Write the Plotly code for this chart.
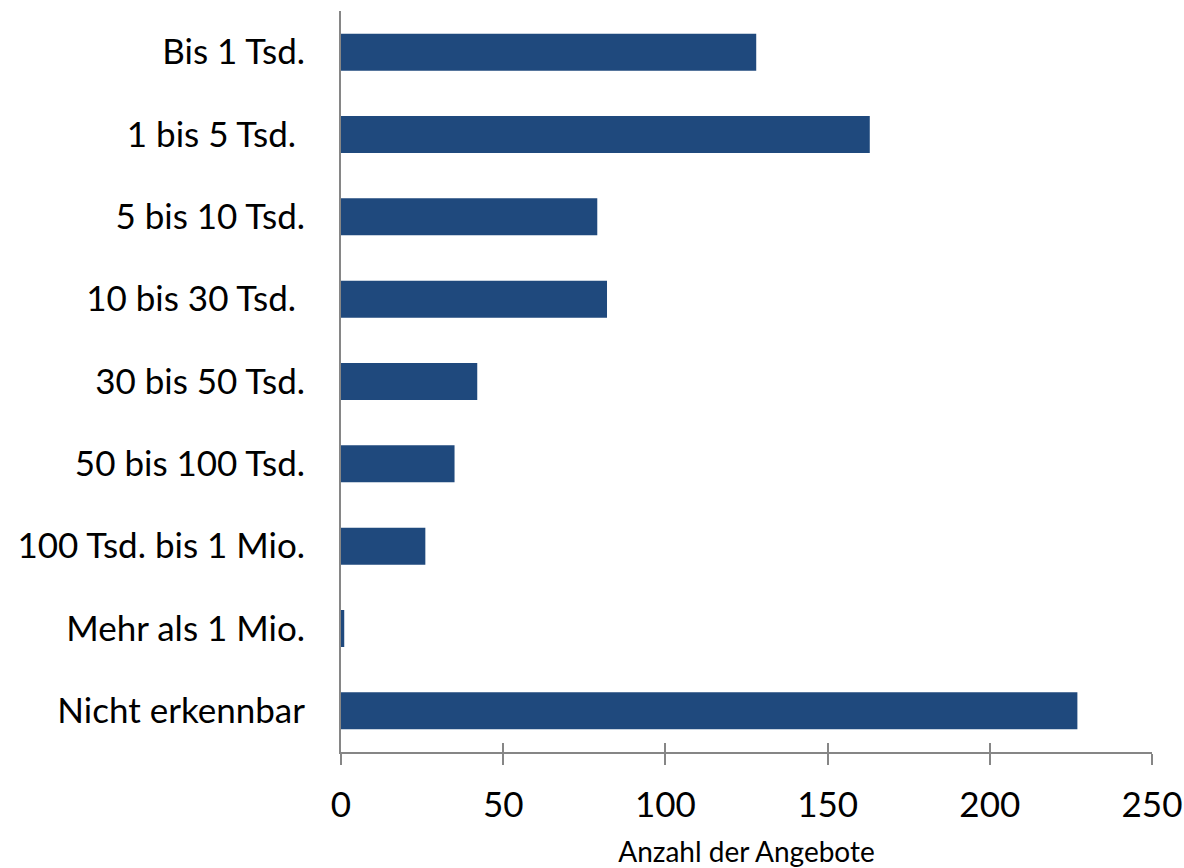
import plotly.graph_objects as go

categories = ["Bis 1 Tsd.", "1 bis 5 Tsd.\u00a0", "5 bis 10 Tsd.", "10 bis 30 Tsd.\u00a0",
              "30 bis 50 Tsd.", "50 bis 100 Tsd.", "100 Tsd. bis 1 Mio.",
              "Mehr als 1 Mio.", "Nicht erkennbar"]
values = [128, 163, 79, 82, 42, 35, 26, 1, 227]
x_ticks = [0, 50, 100, 150, 200, 250]
x_title = "Anzahl der Angebote"

FONT = "Lato"
BAR = "#1F497D"
AXIS = "#868686"

fig = go.Figure()
fig.add_trace(go.Bar(x=values, y=categories, orientation="h", width=0.45,
                     marker=dict(color=BAR, line=dict(width=0)), hoverinfo="skip",
                     cliponaxis=False))
fig.add_trace(go.Bar(x=values, y=categories, orientation="h", width=0.45,
                     xaxis="x2", opacity=0, marker=dict(color=BAR), hoverinfo="skip",
                     showlegend=False))

fig.update_layout(
    width=1184, height=868,
    margin=dict(l=341, r=32, t=11, b=116, autoexpand=False),
    paper_bgcolor="white", plot_bgcolor="white",
    showlegend=False,
    font=dict(family=FONT, color="black"),
    xaxis=dict(range=[0, 250], tickvals=x_ticks, showgrid=False, zeroline=False,
               showline=True, linecolor=AXIS, linewidth=2,
               ticks="outside", ticklen=11, tickwidth=2, tickcolor=AXIS,
               tickfont=dict(size=35, family=FONT), ticklabelstandoff=10,
               title=dict(text=x_title, font=dict(size=28, family=FONT), standoff=22),
               automargin=False, fixedrange=True),
    xaxis2=dict(range=[0, 250], tickvals=x_ticks, overlaying="x", side="bottom",
                showgrid=False, zeroline=False, showline=False,
                ticks="inside", ticklen=9, tickwidth=2, tickcolor=AXIS,
                showticklabels=False, automargin=False, fixedrange=True),
    yaxis=dict(autorange="reversed", showgrid=False, zeroline=False,
               showline=True, linecolor=AXIS, linewidth=2, ticks="",
               tickfont=dict(size=35, family=FONT), ticklabelstandoff=27,
               automargin=False, fixedrange=True),
)

fig.write_html("out.html", config={"displayModeBar": False},
               post_script="document.body.style.margin='0';document.body.style.overflow='hidden';")
